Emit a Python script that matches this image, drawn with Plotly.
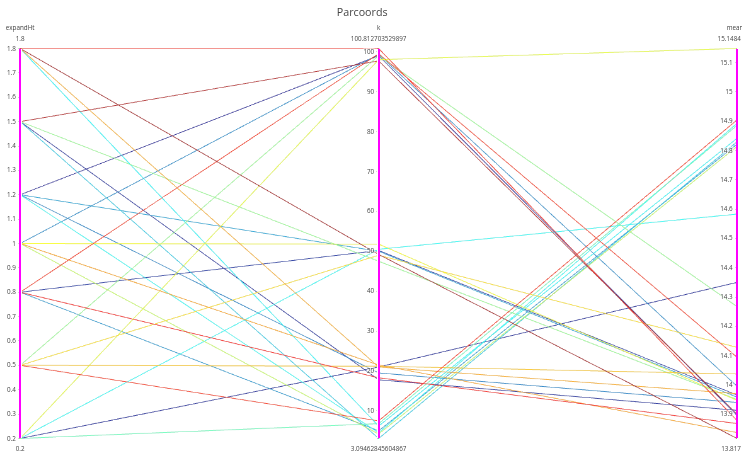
import plotly.graph_objects as go

# Factorial runs: expandHt x k, with the resulting meanA
expand_ht = [1.8, 1.8, 1.8, 1.8,
             1.5, 1.5, 1.5, 1.5,
             1.2, 1.2, 1.2, 1.2,
             1.0, 1.0, 1.0, 1.0,
             0.8, 0.8, 0.8, 0.8,
             0.5, 0.5, 0.5, 0.5,
             0.2, 0.2, 0.2, 0.2]

k_vals = [100.812703529897, 49.2, 21.0, 6.2,
          97.7, 47.5, 17.8, 3.09462845604867,
          99.0, 50.0, 19.5, 4.5,
          99.3, 51.8, 21.5, 4.2,
          99.5, 50.2, 18.3, 5.0,
          99.0, 49.0, 21.2, 7.5,
          98.0, 50.5, 21.0, 6.8]

mean_a = [13.878, 13.817, 13.97, 14.842,
          13.90, 13.95, 13.913, 14.83,
          13.896, 13.958, 13.94, 14.893,
          13.995, 13.947, 13.837, 14.814,
          14.094, 13.965, 13.868, 14.822,
          14.267, 14.128, 14.037, 14.905,
          15.1484, 14.583, 14.35, 14.886]

# Per-line colour values on the Jet scale
line_color = [0.86, 0.98, 0.72, 0.37,
              0.96, 0.50, 0.03, 0.30,
              0.00, 0.24, 0.19, 0.38,
              0.20, 0.62, 0.73, 0.56,
              0.85, 0.05, 0.87, 0.22,
              0.50, 0.66, 0.69, 0.85,
              0.60, 0.38, 0.02, 0.45]

# Jet stops, softened a little towards white
JET = [(0.0, (0, 0, 131)), (0.125, (0, 60, 170)), (0.375, (5, 255, 255)),
       (0.625, (255, 255, 0)), (0.875, (250, 0, 0)), (1.0, (128, 0, 0))]
SOFTEN = 0.22
soft_jet = [[p, "rgb(%d,%d,%d)" % tuple(round(c + (255 - c) * SOFTEN) for c in rgb)]
            for p, rgb in JET]

# The figure is laid out at a larger size and shown scaled down
SCALE = 0.63
VIEW_W, VIEW_H = 742, 455
FIG_W = round(VIEW_W / SCALE)
FIG_H = round(VIEW_H / SCALE)


def dim(label, values):
    lo, hi = min(values), max(values)
    return dict(label=label, values=values, range=[lo, hi],
                constraintrange=[lo, hi], tickformat=".15")


fig = go.Figure(go.Parcoords(
    line=dict(color=line_color, colorscale=soft_jet, cmin=0, cmax=1),
    dimensions=[
        dim("expandHt", expand_ht),
        dim("k", k_vals),
        dim("meanA", mean_a),
    ],
))

fig.update_layout(
    width=FIG_W, height=FIG_H,
    font=dict(family="Open Sans, sans-serif", color="#444"),
    title=dict(text="Parcoords", x=0.488, xanchor="center",
               y=1 - 19 / FIG_H, yanchor="middle", yref="container",
               font=dict(size=17)),
    margin=dict(l=round(20 / SCALE), r=round(5 / SCALE),
                t=round(47 / SCALE), b=round(15 / SCALE)),
    paper_bgcolor="white",
    plot_bgcolor="white",
)

post = """
var gd = document.getElementById('{plot_id}');
gd.style.transformOrigin = '0 0';
gd.style.transform = 'scale(%f)';
document.documentElement.style.overflow = 'hidden';
document.body.style.overflow = 'hidden';
document.body.style.margin = '0';
function pinLastRange() {
  ['.axis-extent-top-text', '.axis-extent-bottom-text'].forEach(function (sel) {
    var els = gd.querySelectorAll(sel);
    if (!els.length) return;
    var t = els[els.length - 1];
    t.setAttribute('text-anchor', 'end');
    t.style.textAnchor = 'end';
    t.setAttribute('x', '%d');
  });
}
pinLastRange();
setTimeout(pinLastRange, 100);
if (gd.on) gd.on('plotly_afterplot', pinLastRange);
""" % (SCALE, round(4 / SCALE))

fig.write_html("out.html", post_script=post,
               config={"plotGlPixelRatio": 1})
